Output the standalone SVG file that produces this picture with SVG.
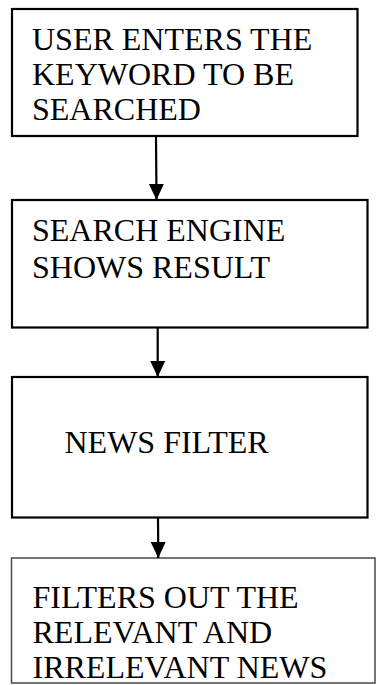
<svg xmlns="http://www.w3.org/2000/svg" width="376" height="685" viewBox="0 0 376 685">
  <style>
    .box { fill: #ffffff; stroke: #000000; stroke-width: 2.2; }
    .box.thin { stroke: #4a4a4a; stroke-width: 1.5; }
    .label { font-family: "Liberation Serif", "Times New Roman", serif; font-size: 32px; fill: #000000; }
    .link { stroke: #000000; stroke-width: 2.2; fill: none; }
  </style>
  <defs>
    <marker id="arrowhead" markerUnits="userSpaceOnUse" markerWidth="17" markerHeight="17" viewBox="0 0 17 17" refX="16" refY="8.5" orient="auto">
      <path d="M0,1 L16,8.5 L0,16 Z" fill="#000000"/>
    </marker>
  </defs>
  <rect width="376" height="685" fill="#ffffff"/>

  <!-- step 1 -->
  <g id="node-enter-keyword">
    <rect class="box" x="12" y="9" width="345.5" height="127"/>
    <text class="label" x="32" y="50">USER ENTERS THE</text>
    <text class="label" x="32" y="85">KEYWORD TO BE</text>
    <text class="label" x="32" y="120">SEARCHED</text>
  </g>

  <!-- step 2 -->
  <g id="node-search-results">
    <rect class="box" x="12" y="200" width="355.5" height="127.5"/>
    <text class="label" x="32" y="241">SEARCH ENGINE</text>
    <text class="label" x="32" y="278">SHOWS RESULT</text>
  </g>

  <!-- step 3 -->
  <g id="node-news-filter">
    <rect class="box" x="12" y="377" width="355.5" height="140.5"/>
    <text class="label" x="64.5" y="453">NEWS FILTER</text>
  </g>

  <!-- step 4 -->
  <g id="node-filter-output">
    <rect class="box thin" x="11.5" y="558" width="363.5" height="125"/>
    <text class="label" x="32.5" y="608">FILTERS OUT THE</text>
    <text class="label" x="32.5" y="643">RELEVANT AND</text>
    <text class="label" x="32.5" y="678">IRRELEVANT NEWS</text>
  </g>

  <!-- flow arrows -->
  <g id="connectors">
    <line class="link" x1="156" y1="136" x2="156.5" y2="200" marker-end="url(#arrowhead)"/>
    <line class="link" x1="157.7" y1="327.5" x2="157.7" y2="377" marker-end="url(#arrowhead)"/>
    <line class="link" x1="158" y1="517.5" x2="158.3" y2="558" marker-end="url(#arrowhead)"/>
  </g>
</svg>
